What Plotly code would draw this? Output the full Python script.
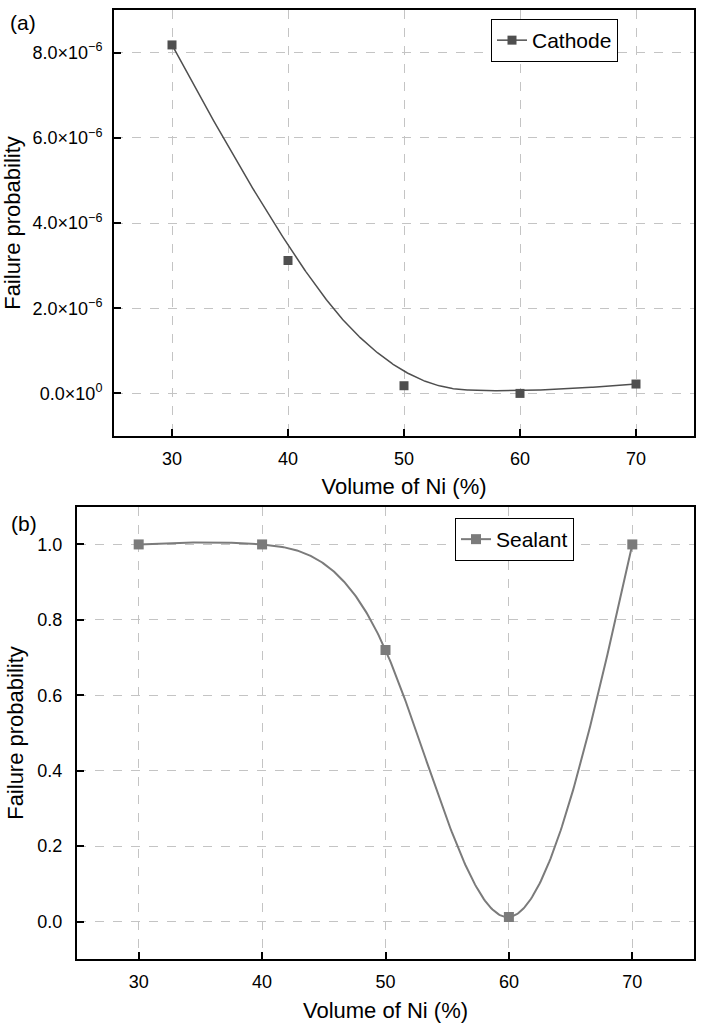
import numpy as np
import plotly.graph_objects as go

# ---------------- data ----------------
ni_volume = [30, 40, 50, 60, 70]
cathode_prob = [8.18e-6, 3.12e-6, 0.18e-6, 0.0, 0.22e-6]
sealant_prob = [1.0, 1.0, 0.72, 0.012, 1.0]

x_ticks = [30, 40, 50, 60, 70]
top_y_ticks = [0, 2e-6, 4e-6, 6e-6, 8e-6]
top_y_ticktext = ["0.0×10<sup>0</sup>", "2.0×10<sup>−6</sup>", "4.0×10<sup>−6</sup>",
                  "6.0×10<sup>−6</sup>", "8.0×10<sup>−6</sup>"]
bot_y_ticks = [0.0, 0.2, 0.4, 0.6, 0.8, 1.0]
bot_y_ticktext = ["0.0", "0.2", "0.4", "0.6", "0.8", "1.0"]


# ---------------- curve helpers ----------------
def bspline_quadratic(xs, ys, n=400):
    """Clamped uniform quadratic B-spline using data points as control points."""
    P = np.column_stack([xs, ys]).astype(float)
    k = 2
    m = len(P)
    inner = np.linspace(0, 1, m - k + 1)
    knots = np.concatenate([[0] * k, inner, [1] * k])
    ts = np.linspace(0, 1, n)
    out = []
    for t in ts:
        if t >= 1.0:
            s = m - 1
        else:
            s = np.searchsorted(knots, t, side="right") - 1
        d = [P[j + s - k].copy() for j in range(k + 1)]
        for r in range(1, k + 1):
            for j in range(k, r - 1, -1):
                i = j + s - k
                denom = knots[i + k + 1 - r] - knots[i]
                a = 0.0 if denom == 0 else (t - knots[i]) / denom
                d[j] = (1 - a) * d[j - 1] + a * d[j]
        out.append(d[k])
    out = np.array(out)
    return out[:, 0], out[:, 1]


def natural_cubic(xs, ys, n=400):
    x = np.asarray(xs, float)
    y = np.asarray(ys, float)
    N = len(x)
    h = np.diff(x)
    A = np.zeros((N, N))
    b = np.zeros(N)
    A[0, 0] = 1
    A[-1, -1] = 1
    for i in range(1, N - 1):
        A[i, i - 1] = h[i - 1]
        A[i, i] = 2 * (h[i - 1] + h[i])
        A[i, i + 1] = h[i]
        b[i] = 6 * ((y[i + 1] - y[i]) / h[i] - (y[i] - y[i - 1]) / h[i - 1])
    M = np.linalg.solve(A, b)
    xx = np.linspace(x[0], x[-1], n)
    yy = np.empty_like(xx)
    for j, xv in enumerate(xx):
        i = min(np.searchsorted(x, xv, side="right") - 1, N - 2)
        hi = h[i]
        t1 = x[i + 1] - xv
        t0 = xv - x[i]
        yy[j] = (M[i] * t1 ** 3 / (6 * hi) + M[i + 1] * t0 ** 3 / (6 * hi)
                 + (y[i] / hi - M[i] * hi / 6) * t1 + (y[i + 1] / hi - M[i + 1] * hi / 6) * t0)
    return xx, yy


cx, cy = bspline_quadratic(ni_volume, cathode_prob)
sx, sy = natural_cubic(ni_volume, sealant_prob)

# ---------------- styling ----------------
FONT = "Liberation Sans, Arial, sans-serif"
W, H = 704, 1027
c_top = "#4f4f4f"
c_bot = "#7b7b7b"

fig = go.Figure()

# Top panel
fig.add_trace(go.Scatter(x=cx, y=cy, mode="lines", line=dict(color=c_top, width=1.5),
                         xaxis="x", yaxis="y", showlegend=False, hoverinfo="skip"))
fig.add_trace(go.Scatter(x=ni_volume, y=cathode_prob, mode="markers",
                         marker=dict(symbol="square", size=9, color=c_top),
                         xaxis="x", yaxis="y", showlegend=False))
fig.add_trace(go.Scatter(x=[None], y=[None], mode="lines+markers", name="Cathode",
                         line=dict(color=c_top, width=1.5),
                         marker=dict(symbol="square", size=9, color=c_top),
                         xaxis="x", yaxis="y", legend="legend"))

# Bottom panel
fig.add_trace(go.Scatter(x=sx, y=sy, mode="lines", line=dict(color=c_bot, width=2),
                         xaxis="x2", yaxis="y2", showlegend=False, hoverinfo="skip"))
fig.add_trace(go.Scatter(x=ni_volume, y=sealant_prob, mode="markers",
                         marker=dict(symbol="square", size=10, color=c_bot),
                         xaxis="x2", yaxis="y2", showlegend=False))
fig.add_trace(go.Scatter(x=[None], y=[None], mode="lines+markers", name="Sealant",
                         line=dict(color=c_bot, width=2),
                         marker=dict(symbol="square", size=10, color=c_bot),
                         xaxis="x2", yaxis="y2", legend="legend2"))

axis_common = dict(
    showline=True, linecolor="black", linewidth=2, mirror=True,
    ticks="inside", ticklen=7, tickwidth=2, tickcolor="black",
    showgrid=True, gridcolor="#c4c4c4", gridwidth=1, griddash="dash",
    zeroline=False, tickfont=dict(family=FONT, size=18, color="black"),
)

fig.update_layout(
    width=W, height=H,
    margin=dict(l=0, r=0, t=0, b=0),
    paper_bgcolor="white", plot_bgcolor="white",
    font=dict(family=FONT, color="black", size=18),
    xaxis=dict(domain=[114 / W, 694 / W], anchor="y", range=[25, 75],
               tickvals=x_ticks, ticklabelstandoff=5,
               title=dict(text="Volume of Ni (%)", font=dict(size=22), standoff=11),
               **axis_common),
    yaxis=dict(domain=[1 - 436 / H, 1 - 10 / H], anchor="x", range=[-1e-6, 9e-6],
               tickvals=top_y_ticks, ticktext=top_y_ticktext, ticklabelstandoff=6,
               title=dict(text="Failure probability", font=dict(size=22), standoff=6),
               **axis_common),
    xaxis2=dict(domain=[77 / W, 694 / W], anchor="y2", range=[25, 75],
                tickvals=x_ticks, ticklabelstandoff=5,
                title=dict(text="Volume of Ni (%)", font=dict(size=22), standoff=12),
                **axis_common),
    yaxis2=dict(domain=[1 - 959.3 / H, 1 - 506.7 / H], anchor="x2", range=[-0.1, 1.1],
                tickvals=bot_y_ticks, ticktext=bot_y_ticktext, ticklabelstandoff=9,
                title=dict(text="Failure probability", font=dict(size=22), standoff=8),
                **axis_common),
    legend=dict(x=491 / W, y=1 - 19 / H, xanchor="left", yanchor="top",
                bordercolor="black", borderwidth=1, bgcolor="white",
                font=dict(family=FONT, size=21, color="black")),
    legend2=dict(x=455 / W, y=1 - 518 / H, xanchor="left", yanchor="top",
                 bordercolor="black", borderwidth=1, bgcolor="white",
                 font=dict(family=FONT, size=21, color="black")),
    annotations=[
        dict(text="(a)", x=8 / W, y=1 - 23 / H, xref="paper", yref="paper",
             xanchor="left", yanchor="middle", showarrow=False,
             font=dict(family=FONT, size=21, color="black")),
        dict(text="(b)", x=9 / W, y=1 - 523 / H, xref="paper", yref="paper",
             xanchor="left", yanchor="middle", showarrow=False,
             font=dict(family=FONT, size=21, color="black")),
    ],
)

fig.write_html("out.html")
